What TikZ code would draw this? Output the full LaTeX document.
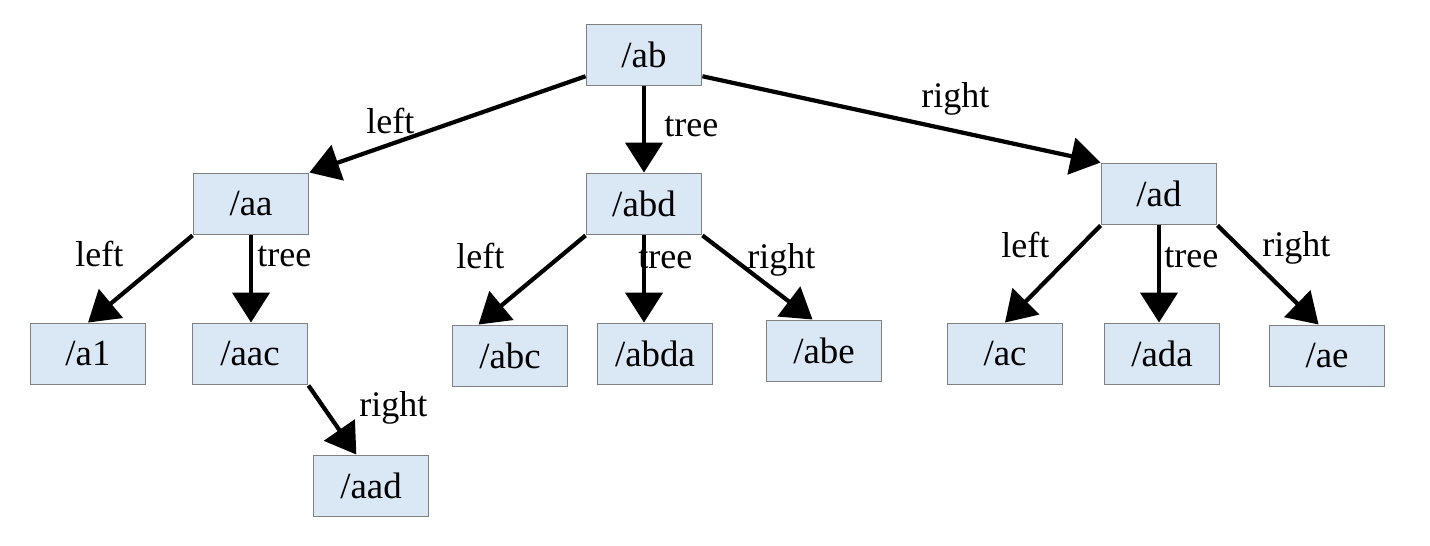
\documentclass[tikz,border=0pt]{standalone}
\usepackage{fontspec}
\setmainfont{Liberation Serif}
\usetikzlibrary{arrows.meta}
\definecolor{boxfill}{RGB}{218,232,246}
\definecolor{boxbordo}{RGB}{128,128,128}
\begin{document}
\begin{tikzpicture}[x=0.02cm, y=-0.02cm,
    nodo/.style={draw=boxbordo, line width=1.1pt, fill=boxfill, minimum width=2.3cm, minimum height=1.22cm, inner sep=0pt, font=\fontsize{21}{25}\selectfont},
    arco/.style={-{Triangle[length=17pt,width=21pt]}, line width=2.4pt},
    etichetta/.style={anchor=base west, inner sep=0pt, font=\fontsize{20.5}{24}\selectfont}]
    \useasboundingbox (0,0) rectangle (1430,546);

    % Nodi
    \node[nodo] (n_ab) at (644,55) {/ab};
    \node[nodo] (n_aa) at (251,204) {/aa};
    \node[nodo] (n_abd) at (644,204) {/abd};
    \node[nodo] (n_ad) at (1159,194) {/ad};
    \node[nodo] (n_a1) at (88,354) {/a1};
    \node[nodo] (n_aac) at (250,354) {/aac};
    \node[nodo] (n_aad) at (371,486) {/aad};
    \node[nodo] (n_abc) at (510,356) {/abc};
    \node[nodo] (n_abda) at (655,354) {/abda};
    \node[nodo] (n_abe) at (824,351) {/abe};
    \node[nodo] (n_ac) at (1005,354) {/ac};
    \node[nodo] (n_ada) at (1162,354) {/ada};
    \node[nodo] (n_ae) at (1327,356) {/ae};

    % Archi
    \draw[arco] (n_ab.200) -- (n_aa.north east);
    \draw[arco] (n_ab.south) -- (n_abd.north);
    \draw[arco] (n_ab.-20) -- (n_ad.north west);
    \draw[arco] (n_aa.south west) -- (n_a1.north);
    \draw[arco] (n_aa.south) -- (n_aa.south |- n_aac.north);
    \draw[arco] (n_aac.south east) -- (n_aad.115);
    \draw[arco] (n_abd.south west) -- (n_abc.135);
    \draw[arco] (n_abd.south) -- (n_abd.south |- n_abda.north);
    \draw[arco] (n_abd.south east) -- (n_abe.110);
    \draw[arco] (n_ad.south west) -- (n_ac.north);
    \draw[arco] (n_ad.south) -- (n_ad.south |- n_ada.north);
    \draw[arco] (n_ad.south east) -- (n_ae.105);

    % Etichette
    \node[etichetta] (l_ab_aa) at (366,134) {left};
    \node[etichetta] (l_ab_abd) at (664,137) {tree};
    \node[etichetta] (l_ab_ad) at (921,108) {right};
    \node[etichetta] (l_aa_a1) at (75,267) {left};
    \node[etichetta] (l_aa_aac) at (257,267) {tree};
    \node[etichetta] (l_aac_aad) at (359,417) {right};
    \node[etichetta] (l_abd_abc) at (456,269) {left};
    \node[etichetta] (l_abd_abda) at (638,269) {tree};
    \node[etichetta] (l_abd_abe) at (747,269) {right};
    \node[etichetta] (l_ad_ac) at (1001,258) {left};
    \node[etichetta] (l_ad_ada) at (1164,268) {tree};
    \node[etichetta] (l_ad_ae) at (1262,257) {right};
\end{tikzpicture}
\end{document}
